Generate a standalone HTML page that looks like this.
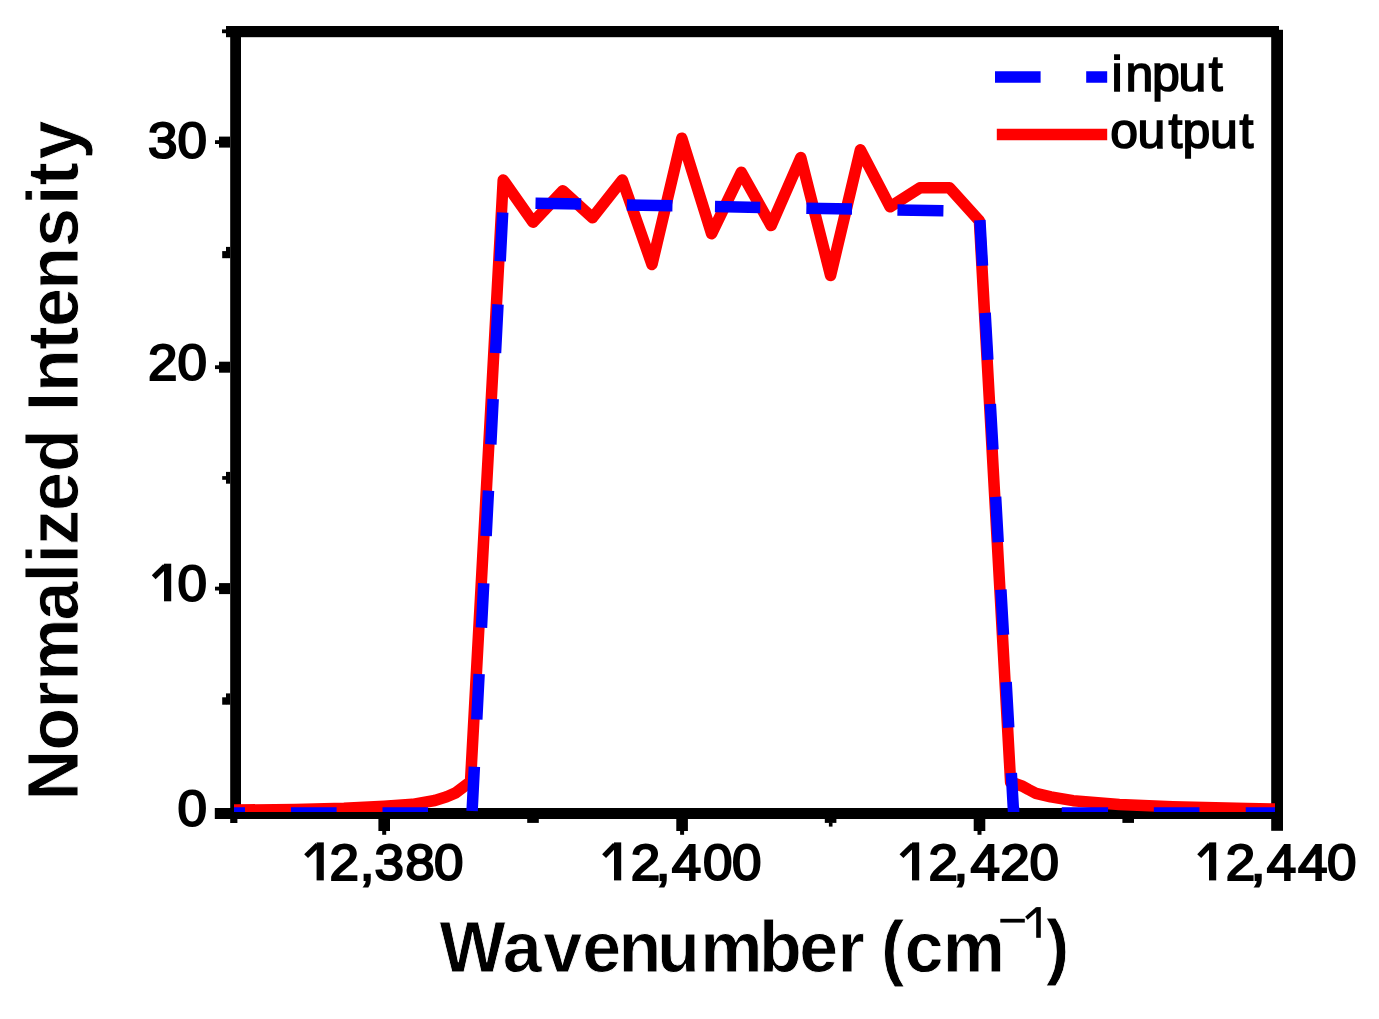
<!DOCTYPE html><html><head><meta charset="utf-8"><style>html,body{margin:0;padding:0;background:#fff;overflow:hidden}svg{display:block}text{font-family:"Liberation Sans",sans-serif}</style></head><body>
<svg width="1379" height="1019" viewBox="0 0 1379 1019">
<rect width="1379" height="1019" fill="#fff"/>
<g fill="#000">
<rect x="226" y="26" width="1053" height="11.2"/>
<rect x="230.2" y="26" width="10.8" height="793"/>
<rect x="230.2" y="815" width="7.2" height="8"/>
<rect x="1271.2" y="29.8" width="11.8" height="801"/>
<rect x="214.8" y="808" width="1068" height="11"/>
<rect x="222" y="29.4" width="8" height="3.8"/>
<rect x="219" y="136.6" width="11" height="11"/>
<rect x="215" y="140.2" width="4" height="3.8"/>
<rect x="219" y="361.7" width="11" height="11"/>
<rect x="215" y="365.3" width="4" height="3.8"/>
<rect x="219" y="583.1" width="11" height="11"/>
<rect x="215" y="586.7" width="4" height="3.8"/>
<rect x="226" y="246.9" width="4.2" height="11.3"/>
<rect x="222.2" y="251.1" width="4" height="7.1"/>
<rect x="226" y="471.9" width="4.2" height="11.8"/>
<rect x="222.2" y="476.1" width="4" height="3.7"/>
<rect x="226" y="693.4" width="4.2" height="11.3"/>
<rect x="222.2" y="697.3" width="4" height="7.4"/>
<rect x="378.4" y="819" width="11.6" height="12"/>
<rect x="382.2" y="831" width="4" height="3.8"/>
<rect x="676.3" y="819" width="11.6" height="12"/>
<rect x="680.1" y="831" width="4" height="3.8"/>
<rect x="973.7" y="819" width="11.6" height="12"/>
<rect x="977.5" y="831" width="4" height="3.8"/>
<rect x="527.2" y="819" width="11.6" height="3.9"/>
<rect x="824.8" y="819" width="11.6" height="3.9"/>
<rect x="1122.4" y="819" width="11.6" height="3.9"/>
<rect x="828.9" y="822.5" width="3.6" height="4.1"/>
</g>
<defs><clipPath id="cp"><rect x="234" y="0" width="1041" height="812"/></clipPath></defs>
<g clip-path="url(#cp)" fill="none" stroke-linejoin="round">
<polyline points="220.5,810.1 235.4,810.1 294.9,809.4 344.0,808.3 384.2,806.3 412.5,804.3 434.8,800.5 446.7,796.7 455.6,792.9 461.6,788.4 470.5,781.7 503.2,180.0 533.0,222.2 562.8,190.7 592.5,217.8 622.3,180.0 652.0,264.5 681.8,138.2 711.6,233.7 741.3,172.2 771.1,225.6 800.8,157.6 830.6,275.5 860.4,149.8 890.1,206.8 919.9,187.8 949.6,187.8 979.4,220.9 1010.6,782.1 1022.6,786.2 1028.5,789.5 1035.9,793.3 1050.8,796.9 1073.1,800.7 1119.3,804.5 1172.8,806.7 1247.2,808.5 1277.0,809.0 1291.9,809.0" stroke="#f00" stroke-width="11.5"/>
<polyline points="220.0,813.0 472.0,813.0 503.2,202.6 979.4,211.5 1013.6,813.0 1290.0,813.0" stroke="#00f" stroke-width="11.5" stroke-dasharray="25.0 46.0 45.6 45.9 45.5 46.0 44.3 47.3 45.5 46.5 44.4 47.3 45.5 46.3 45.4 46.1 48.7 43.2 48.8 42.2 45.7 45.7 45.6 42.5 45.3 46.1 45.7 45.4 46.0 44.6 45.7 47.2 47.1 44.2 45.7 47.3 45.5 47.4 45.4 47.3 45.5 45.5 45.8 42.4 46.3 45.8 45.6 46.3 45.6 201.0"/>
</g>
<line x1="995" y1="77.1" x2="1107.2" y2="77.1" stroke="#00f" stroke-width="11.5" stroke-dasharray="45.6 45.6"/>
<line x1="996.8" y1="134.5" x2="1107.2" y2="134.5" stroke="#f00" stroke-width="11.5"/>
<g fill="#000">
<text x="1111.4 1125.6 1152.0 1178.4 1208.7" y="90.6" font-size="50" stroke="#000" stroke-width="1.6">input</text>
<text x="1110.2 1137.6 1168.6 1182.5 1210.1 1239.4" y="147.7" font-size="50" stroke="#000" stroke-width="1.6">output</text>
<rect x="164.0" y="563.7" width="7.2" height="37.6"/><line x1="165.0" y1="566.2" x2="153.7" y2="577.2" stroke="#000" stroke-width="5.5"/>
<g transform="translate(0 158) scale(1 0.955)"><text x="207" y="0" font-size="53" text-anchor="end" stroke="#000" stroke-width="2.1">30</text></g>
<g transform="translate(0 380) scale(1 0.955)"><text x="207" y="0" font-size="53" text-anchor="end" stroke="#000" stroke-width="2.1">20</text></g>
<g transform="translate(0 601) scale(1 0.955)"><text x="207" y="0" font-size="53" text-anchor="end" stroke="#000" stroke-width="2.1">0</text></g>
<g transform="translate(0 826) scale(1 0.955)"><text x="207" y="0" font-size="53" text-anchor="end" stroke="#000" stroke-width="2.1">0</text></g>
<g transform="translate(0 880.4) scale(1 0.955)"><text x="329.4 359.8 374.5 405.2 434.1" y="0" font-size="53" stroke="#000" stroke-width="2.1">2,380</text></g>
<rect x="316.6" y="842.4" width="7.2" height="38.0"/><line x1="317.6" y1="844.9" x2="306.1" y2="856.1" stroke="#000" stroke-width="5.5"/>
<g transform="translate(0 880.4) scale(1 0.955)"><text x="630.8 655.8 671.7 702.9 731.9" y="0" font-size="53" stroke="#000" stroke-width="2.1">2,400</text></g>
<rect x="614.0" y="842.4" width="7.2" height="38.0"/><line x1="615.0" y1="844.9" x2="604.1" y2="856.1" stroke="#000" stroke-width="5.5"/>
<g transform="translate(0 880.4) scale(1 0.955)"><text x="928.5 953.4 970.5 1000.3 1029.6" y="0" font-size="53" stroke="#000" stroke-width="2.1">2,420</text></g>
<rect x="912.0" y="842.4" width="7.2" height="38.0"/><line x1="913.0" y1="844.9" x2="901.5" y2="856.1" stroke="#000" stroke-width="5.5"/>
<g transform="translate(0 880.4) scale(1 0.955)"><text x="1225.8 1250.8 1266.7 1298.1 1326.9" y="0" font-size="53" stroke="#000" stroke-width="2.1">2,440</text></g>
<rect x="1209.0" y="842.4" width="7.2" height="38.0"/><line x1="1210.0" y1="844.9" x2="1199.2" y2="856.1" stroke="#000" stroke-width="5.5"/>
<g transform="translate(0 971.5) scale(1 1.03)"><text x="439.6 502.8 543.2 582.2 618.5 656.9 700.2 759.1 799.2 837.4 864.6 880.9 904.4 942.8" y="0" font-size="70" font-weight="bold" stroke="#fff" stroke-width="0.8">Wavenumber (cm</text></g>
<rect x="1000.3" y="918.8" width="24.5" height="3.8"/>
<rect x="1036.2" y="907.1" width="4.6" height="30.7"/><line x1="1037.2" y1="908.8" x2="1026.4" y2="918.2" stroke="#000" stroke-width="3.8"/>
<text x="1046" y="971.5" font-size="70" font-weight="bold" stroke="#fff" stroke-width="0.8" transform="translate(0 971.5) scale(1 1.03) translate(0 -971.5)">)</text>
<g transform="translate(77.5,800) rotate(-90)"><g transform="translate(0 0) scale(1 1.03)"><text x="-0.6 49.3 91.5 119.2 179.4 217.4 236.5 255.1 289.1 328.0 370.8 388.7 408.0 450.2 472.9 510.2 553.0 595.1 614.6 640.4" y="0" font-size="70" font-weight="bold" stroke="#fff" stroke-width="0.8">Normalized Intensity</text></g></g>
</g>
</svg></body></html>
